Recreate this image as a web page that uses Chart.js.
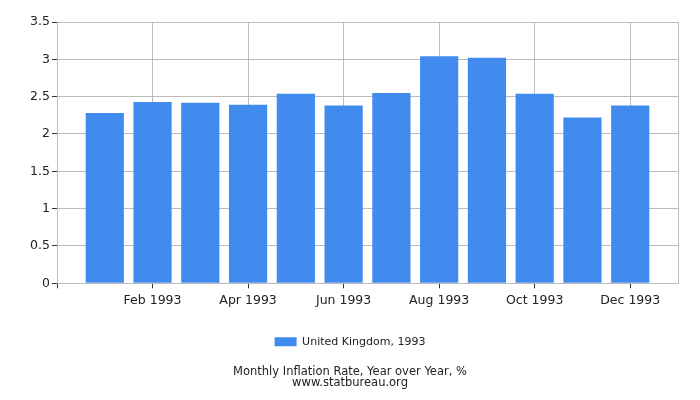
<!DOCTYPE html>
<html>
<head>
<meta charset="utf-8">
<script src="https://cdn.jsdelivr.net/npm/chart.js@4"></script>
<style>
  html, body { margin: 0; padding: 0; background: #fff; }
  #wrap { width: 700px; height: 400px; }
</style>
</head>
<body>
<div id="wrap"><canvas id="chart"></canvas></div>
<script>
const months = ['Jan 1993', 'Feb 1993', 'Mar 1993', 'Apr 1993', 'May 1993', 'Jun 1993',
                'Jul 1993', 'Aug 1993', 'Sep 1993', 'Oct 1993', 'Nov 1993', 'Dec 1993'];
const inflation = [2.28, 2.43, 2.42, 2.39, 2.54, 2.38, 2.55, 3.04, 3.02, 2.54, 2.22, 2.38];
const yTicks = [0, 0.5, 1, 1.5, 2, 2.5, 3, 3.5];
const seriesName = 'United Kingdom, 1993';
const titleLines = ['Monthly Inflation Rate, Year over Year, %', 'www.statbureau.org'];

// half a month of empty room on each side, like the original
const labels = [''].concat(months, ['']);
const values = [null].concat(inflation, [null]);

const textColor = '#222';
const gridColor = '#bbb';
const font = { family: 'DejaVu Sans', size: 12.5 };

new Chart(document.getElementById('chart'), {
    type: 'bar',
    data: {
        labels: labels,
        datasets: [{
            label: seriesName,
            data: values,
            backgroundColor: '#418bef',
            barPercentage: 1,
            categoryPercentage: 0.8
        }]
    },
    options: {
        responsive: true,
        maintainAspectRatio: false,
        animation: false,
        layout: { padding: { top: 22, right: 22, left: 22, bottom: 0 } },
        scales: {
            x: {
                offset: false,
                grid: {
                    offset: false,
                    color: (ctx) => (ctx.index % 2 === 0 || ctx.index === labels.length - 1) ? gridColor : 'rgba(0,0,0,0)',
                    tickColor: (ctx) => (ctx.index % 2 === 0 && ctx.index !== labels.length - 1) ? '#333' : 'rgba(0,0,0,0)',
                    tickLength: 5
                },
                border: { color: gridColor },
                ticks: {
                    autoSkip: false,
                    maxRotation: 0,
                    color: textColor,
                    font: font,
                    padding: 5,
                    callback: (val, i) => (i % 2 === 0 ? labels[i] : '')
                },
                afterFit: (scale) => { scale.height = 43; }
            },
            y: {
                min: 0,
                max: 3.5,
                afterBuildTicks: (scale) => { scale.ticks = yTicks.map(v => ({ value: v })); },
                grid: { color: gridColor, tickColor: '#333', tickLength: 5 },
                border: { color: gridColor },
                ticks: { color: textColor, font: font, padding: 2, callback: (v) => String(v) },
                afterFit: (scale) => { scale.width = 35; }
            }
        },
        plugins: {
            legend: {
                position: 'bottom',
                labels: {
                    boxWidth: 22,
                    boxHeight: 9,
                    padding: 10,
                    color: textColor,
                    font: { family: 'DejaVu Sans', size: 11 }
                }
            },
            title: {
                display: true,
                position: 'bottom',
                text: titleLines,
                color: textColor,
                font: { family: 'DejaVu Sans', size: 11.5, weight: 'normal', lineHeight: 0.9 },
                padding: { top: 10, bottom: 12 }
            },
            tooltip: { enabled: false }
        }
    }
});
</script>
</body>
</html>
